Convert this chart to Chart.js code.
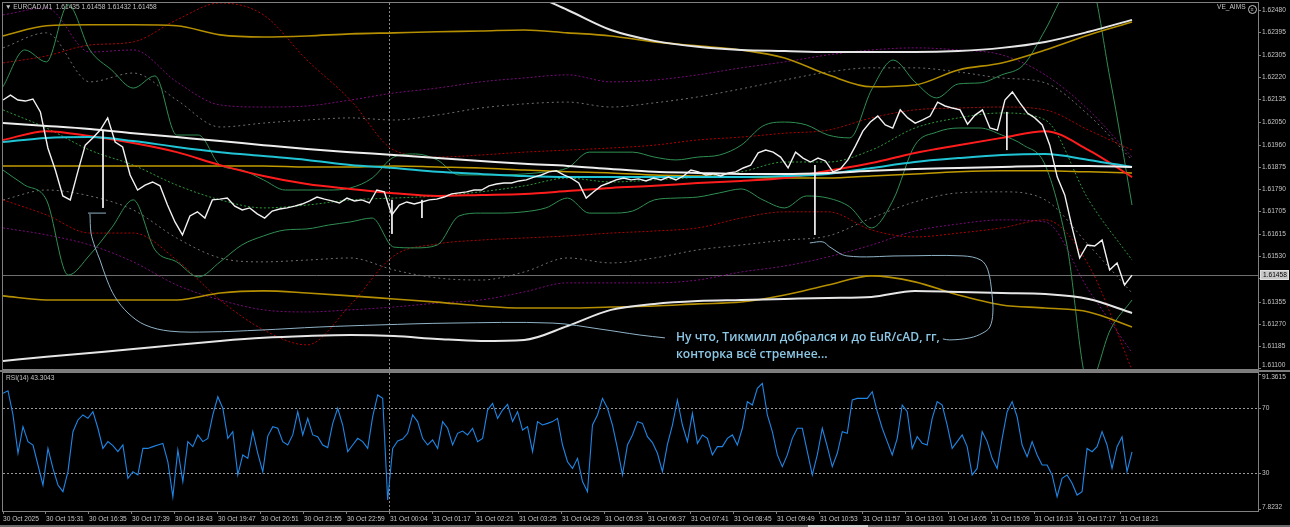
<!DOCTYPE html>
<html>
<head>
<meta charset="utf-8">
<script src="https://cdn.jsdelivr.net/npm/chart.js@4.4.1/dist/chart.umd.min.js"></script>
<style>
  html, body { margin: 0; padding: 0; background: #000; }
  body { width: 1290px; height: 527px; position: relative; overflow: hidden; font-family: "Liberation Sans", Arial, sans-serif; }
  canvas { position: absolute; left: 0; }
  #mainCanvas { top: 0; }
  #rsiCanvas { top: 371px; }
  .sep { position: absolute; left: 0; top: 370px; width: 1290px; height: 2px; background: #7c7c7c; }
  .foot { position: absolute; left: 0; top: 525px; width: 1290px; height: 2px; background: #6a6a6a; }
  .foot span { position: absolute; left: 808px; width: 60px; height: 2px; background: #d0d0d0; }
  .lbl { position: absolute; color: #c4c4c4; font-size: 6.6px; white-space: pre; line-height: 8px; }
  .ico { display: inline-block; width: 7px; height: 7px; border: 1px solid #c4c4c4; border-radius: 50%; vertical-align: -2px; margin-left: 2px; font-size: 5px; line-height: 7px; text-align: center; }
  .note { position: absolute; left: 676px; color: #8cc8e6; font-family: "Open Sans", "Noto Sans", sans-serif; font-size: 12.1px; font-weight: 600; line-height: 16px; white-space: pre; }
</style>
</head>
<body>
<canvas id="mainCanvas" width="1290" height="371"></canvas>
<canvas id="rsiCanvas" width="1290" height="156"></canvas>
<div class="sep"></div>
<div class="foot"><span></span></div>
<div class="lbl" style="left:5px;top:3px">▼ EURCAD,M1  1.61435 1.61458 1.61432 1.61458</div>
<div class="lbl" style="left:1217px;top:3px">VE_AIMS<span class="ico">≡</span></div>
<div class="lbl" style="left:6px;top:374px">RSI(14) 43.3043</div>
<div class="note" style="top:329px">Ну что, Тикмилл добрался и до EuR/cAD, гг,</div>
<div class="note" style="top:346px">конторка всё стремнее...</div>
<script>
// x axis is measured in label slots (one slot per time label)
const LAST_BAR = 26.26;
const X_MAX = 29.19;
const VLINE_AT = 8.98;   // period separator (31 Oct 00:00)
const BID = 1.61458;

const timeLabels = ['30 Oct 2025', '30 Oct 15:31', '30 Oct 16:35', '30 Oct 17:39', '30 Oct 18:43', '30 Oct 19:47',
  '30 Oct 20:51', '30 Oct 21:55', '30 Oct 22:59', '31 Oct 00:04', '31 Oct 01:17', '31 Oct 02:21', '31 Oct 03:25',
  '31 Oct 04:29', '31 Oct 05:33', '31 Oct 06:37', '31 Oct 07:41', '31 Oct 08:45', '31 Oct 09:49', '31 Oct 10:53',
  '31 Oct 11:57', '31 Oct 13:01', '31 Oct 14:05', '31 Oct 15:09', '31 Oct 16:13', '31 Oct 17:17', '31 Oct 18:21'];

const priceTicks = [1.62480, 1.62395, 1.62305, 1.62220, 1.62135, 1.62050, 1.61960, 1.61875, 1.61790,
  1.61705, 1.61615, 1.61530, 1.61445, 1.61355, 1.61270, 1.61185, 1.61100];
const rsiTicks = [91.3615, 70, 30, 7.8232];
const rsiLevels = [70, 30];

// EURCAD M1 close
const closePrice = [
  1.62133, 1.62152, 1.62133, 1.62129, 1.62137, 1.62087, 1.61948, 1.61863, 1.61763, 1.61748,
  1.61856, 1.61959, 1.61987, 1.62017, 1.62064, 1.61971, 1.61952, 1.61844, 1.61786, 1.61805,
  1.61817, 1.61802, 1.61728, 1.61663, 1.61613, 1.61686, 1.61702, 1.61678, 1.61748, 1.61751,
  1.61755, 1.61724, 1.61709, 1.61717, 1.61694, 1.61678, 1.61705, 1.61713, 1.61717, 1.61724,
  1.61732, 1.61744, 1.61759, 1.61751, 1.61744, 1.61736, 1.61755, 1.61744, 1.61748, 1.61736,
  1.61786, 1.61779, 1.61690, 1.61728, 1.61740, 1.61732, 1.61740, 1.61748, 1.61751, 1.61759,
  1.61771, 1.61775, 1.61779, 1.61786, 1.61786, 1.61802, 1.61809, 1.61813, 1.61813, 1.61821,
  1.61825, 1.61836, 1.61844, 1.61856, 1.61860, 1.61844, 1.61832, 1.61813, 1.61755, 1.61779,
  1.61802, 1.61813, 1.61825, 1.61832, 1.61825, 1.61829, 1.61821, 1.61832, 1.61825, 1.61836,
  1.61825, 1.61840, 1.61863, 1.61856, 1.61844, 1.61848, 1.61840, 1.61852, 1.61856, 1.61871,
  1.61882, 1.61929, 1.61940, 1.61932, 1.61913, 1.61871, 1.61932, 1.61909, 1.61894, 1.61909,
  1.61898, 1.61856, 1.61867, 1.61902, 1.61955, 1.62013, 1.62048, 1.62071, 1.62037, 1.62025,
  1.62095, 1.62064, 1.62044, 1.62056, 1.62071, 1.62125, 1.62110, 1.62102, 1.62095, 1.62040,
  1.62075, 1.62095, 1.62025, 1.62017, 1.62133, 1.62164, 1.62122, 1.62083, 1.62064, 1.62037,
  1.61959, 1.61836, 1.61767, 1.61640, 1.61524, 1.61574, 1.61570, 1.61593, 1.61478, 1.61505,
  1.61420, 1.61458];

// single long wicks
const wickAt = [2.326, 9.047, 9.744, 18.884, 23.349];
const wickHigh = [1.62017, 1.61748, 1.61748, 1.61882, 1.62087];
const wickLow = [1.61717, 1.61617, 1.61678, 1.61613, 1.61940];

// moving averages
const maWhite = [1.62044, 1.62033, 1.62021, 1.62005, 1.61990, 1.61975, 1.61959, 1.61944, 1.61932, 1.61921, 1.61909, 1.61898, 1.61887, 1.61879,
  1.61867, 1.61856, 1.61852, 1.61848, 1.61848, 1.61852, 1.61860, 1.61867, 1.61871, 1.61875, 1.61879, 1.61879, 1.61875];
const maCyan = [1.61971, 1.61987, 1.61990, 1.61975, 1.61952, 1.61932, 1.61917, 1.61902, 1.61882, 1.61871, 1.61856, 1.61848, 1.61840, 1.61836,
  1.61836, 1.61836, 1.61836, 1.61836, 1.61840, 1.61848, 1.61871, 1.61894, 1.61909, 1.61921, 1.61925, 1.61902, 1.61875];
const maRed = [1.61979, 1.62013, 1.61994, 1.61967, 1.61932, 1.61882, 1.61840, 1.61809, 1.61790, 1.61774, 1.61763, 1.61767, 1.61771, 1.61782,
  1.61794, 1.61802, 1.61813, 1.61821, 1.61832, 1.61860, 1.61890, 1.61929, 1.61959, 1.61987, 1.62013, 1.61940, 1.61836];
const maGold = [1.61879, 1.61879, 1.61879, 1.61879, 1.61879, 1.61879, 1.61879, 1.61875, 1.61875, 1.61879, 1.61875, 1.61871, 1.61863, 1.61856,
  1.61852, 1.61844, 1.61840, 1.61836, 1.61832, 1.61832, 1.61840, 1.61848, 1.61856, 1.61860, 1.61860, 1.61856, 1.61852];

// outer envelopes
const goldUpper = [1.62380, 1.62419, 1.62423, 1.62423, 1.62419, 1.62384, 1.62376, 1.62380, 1.62388, 1.62392, 1.62396, 1.62399, 1.62403, 1.62392,
  1.62380, 1.62357, 1.62342, 1.62326, 1.62295, 1.62230, 1.62184, 1.62191, 1.62249, 1.62276, 1.62326, 1.62384, 1.62434];
const goldLower = [1.61378, 1.61362, 1.61362, 1.61362, 1.61362, 1.61389, 1.61397, 1.61389, 1.61378, 1.61366, 1.61354, 1.61339, 1.61331, 1.61331,
  1.61335, 1.61339, 1.61347, 1.61354, 1.61381, 1.61420, 1.61455, 1.61432, 1.61381, 1.61343, 1.61331, 1.61316, 1.61258];
const whiteUpper = [1.62750, 1.62735, 1.62719, 1.62704, 1.62689, 1.62673, 1.62658, 1.62642, 1.62627, 1.62612, 1.62596, 1.62577, 1.62550, 1.62480,
  1.62403, 1.62361, 1.62338, 1.62326, 1.62322, 1.62318, 1.62318, 1.62318, 1.62322, 1.62334, 1.62357, 1.62396, 1.62442];
const whiteLower = [1.61127, 1.61143, 1.61158, 1.61173, 1.61189, 1.61204, 1.61216, 1.61223, 1.61227, 1.61223, 1.61212, 1.61204, 1.61208, 1.61262,
  1.61324, 1.61347, 1.61358, 1.61362, 1.61366, 1.61370, 1.61374, 1.61397, 1.61393, 1.61389, 1.61385, 1.61366, 1.61312];

// bollinger bands (green)
const bbUpper = [1.62184, 1.62326, 1.62280, 1.62500, 1.62326, 1.62249, 1.62179, 1.62226, 1.61998, 1.61998,
  1.61882, 1.61863, 1.61825, 1.61786, 1.61786, 1.61786, 1.61794, 1.61832, 1.61913, 1.61925,
  1.61902, 1.61844, 1.61844, 1.61844, 1.61848, 1.61856, 1.61871, 1.61932, 1.61932, 1.61932,
  1.61913, 1.61902, 1.61913, 1.61921, 1.61959, 1.62033, 1.62048, 1.62037, 1.61998, 1.61987,
  1.62172, 1.62287, 1.62203, 1.62141, 1.62195, 1.62199, 1.62230, 1.62268, 1.62403, 1.62558,
  1.62596, 1.62210, 1.61728];
const bbLower = [1.61863, 1.61805, 1.61748, 1.61458, 1.61536, 1.61640, 1.61748, 1.61555, 1.61509, 1.61451,
  1.61509, 1.61574, 1.61609, 1.61632, 1.61636, 1.61651, 1.61663, 1.61678, 1.61566, 1.61563,
  1.61574, 1.61686, 1.61697, 1.61697, 1.61702, 1.61717, 1.61755, 1.61697, 1.61697, 1.61705,
  1.61748, 1.61755, 1.61759, 1.61775, 1.61790, 1.61748, 1.61717, 1.61763, 1.61755, 1.61721,
  1.61640, 1.61748, 1.61959, 1.62009, 1.62025, 1.62025, 1.61998, 1.61959, 1.61882, 1.61574,
  1.61035, 1.61247, 1.61362];
const bbMiddle = [1.62095, 1.62025, 1.61940, 1.61882, 1.61805, 1.61748, 1.61717, 1.61728, 1.61748, 1.61755, 1.61763, 1.61779, 1.61802, 1.61832,
  1.61817, 1.61825, 1.61836, 1.61856, 1.61894, 1.61894, 1.61940, 1.62025, 1.62064, 1.62083, 1.62056, 1.61748, 1.61516];

// dotted channels
const redDotUpper = [1.62276, 1.62303, 1.62345, 1.62357, 1.62442, 1.62507, 1.62461, 1.62287, 1.62133, 1.61940, 1.61913, 1.61921, 1.61932, 1.61940,
  1.61948, 1.61959, 1.61979, 1.61990, 1.62005, 1.62017, 1.62064, 1.62095, 1.62102, 1.62106, 1.62095, 1.62017, 1.61940];
const redDotLower = [1.61748, 1.61690, 1.61620, 1.61620, 1.61516, 1.61362, 1.61247, 1.61189, 1.61343, 1.61532, 1.61578, 1.61593, 1.61601, 1.61609,
  1.61620, 1.61628, 1.61640, 1.61678, 1.61702, 1.61702, 1.61632, 1.61605, 1.61620, 1.61640, 1.61671, 1.61497, 1.61092];
const purpleUpper = [1.62461, 1.62488, 1.62318, 1.62326, 1.62203, 1.62114, 1.62106, 1.62110, 1.62133, 1.62160, 1.62179, 1.62203, 1.62218, 1.62230,
  1.62203, 1.62210, 1.62230, 1.62257, 1.62280, 1.62307, 1.62326, 1.62334, 1.62326, 1.62307, 1.62230, 1.62095, 1.61913];
const purpleLower = [1.61640, 1.61613, 1.61574, 1.61509, 1.61420, 1.61362, 1.61324, 1.61316, 1.61324, 1.61335, 1.61350, 1.61362, 1.61393, 1.61428,
  1.61428, 1.61428, 1.61439, 1.61470, 1.61493, 1.61528, 1.61574, 1.61628, 1.61655, 1.61671, 1.61663, 1.61401, 1.61158];
const grayUpper = [1.62334, 1.62392, 1.62203, 1.62237, 1.62133, 1.62029, 1.62044, 1.62056, 1.62064, 1.62056, 1.62075, 1.62102, 1.62118, 1.62125,
  1.62106, 1.62122, 1.62145, 1.62176, 1.62210, 1.62241, 1.62257, 1.62257, 1.62241, 1.62218, 1.62199, 1.62075, 1.61902];
const grayLower = [1.61748, 1.61786, 1.61763, 1.61709, 1.61601, 1.61524, 1.61509, 1.61516, 1.61524, 1.61478, 1.61447, 1.61439, 1.61470, 1.61524,
  1.61505, 1.61524, 1.61555, 1.61574, 1.61593, 1.61609, 1.61678, 1.61740, 1.61775, 1.61779, 1.61748, 1.61574, 1.61389];

// hand drawn callout (time slot, price)
const hookT = [1.977, 2.395];
const hookP = [1.61697, 1.61697];
const calloutLeftT = [2.023, 2.047, 2.140, 2.256, 2.419, 2.605, 2.907, 3.302, 3.884, 4.814, 5.977, 7.372, 8.767, 10.395, 12.791, 13.884, 14.814, 15.395];
const calloutLeftP = [1.61694, 1.61620, 1.61566, 1.61516, 1.61439, 1.61374, 1.61312, 1.61266, 1.61242, 1.61239, 1.61246, 1.61258, 1.61266, 1.61273,
  1.61273, 1.61250, 1.61227, 1.61216];
const calloutRightT = [18.767, 19.070, 19.233, 19.628, 20.860, 22.326, 22.744, 22.907, 23.000, 23.023, 22.953, 22.791, 22.488, 22.023, 21.860];
const calloutRightP = [1.61582, 1.61586, 1.61566, 1.61532, 1.61532, 1.61532, 1.61516, 1.61478, 1.61389, 1.61312, 1.61258, 1.61235, 1.61216, 1.61208, 1.61212];

// RSI(14)
const rsi14 = [
  79.3, 80.9, 66.0, 42.4, 58.8, 49.6, 47.5, 35.2, 22.9, 45.4,
  33.1, 22.9, 18.8, 31.1, 55.7, 62.9, 66.0, 63.9, 68.0, 57.8,
  45.4, 49.6, 47.1, 43.4, 47.5, 27.0, 31.1, 29.1, 45.4, 45.4,
  46.5, 47.5, 48.5, 37.2, 15.7, 44.4, 25.0, 49.6, 46.5, 53.7,
  49.6, 51.6, 66.0, 77.2, 70.1, 51.6, 55.7, 29.1, 41.4, 39.3,
  55.7, 42.4, 31.1, 53.0, 58.8, 57.8, 49.6, 47.5, 53.7, 68.0,
  53.7, 63.9, 53.7, 52.6, 47.5, 45.9, 60.8, 70.1, 59.8, 43.4,
  47.5, 51.6, 49.6, 45.4, 64.9, 78.3, 76.2, 13.7, 45.4, 50.0,
  51.2, 54.7, 66.0, 61.9, 51.6, 47.5, 50.6, 45.4, 61.9, 57.8,
  47.5, 54.7, 56.1, 53.7, 57.8, 49.6, 51.6, 69.0, 73.1, 63.9,
  69.0, 72.5, 61.9, 68.0, 56.7, 58.8, 43.4, 61.9, 59.8, 60.8,
  61.9, 63.9, 47.5, 37.2, 33.1, 39.3, 25.0, 18.8, 59.8, 66.0,
  76.2, 70.1, 59.8, 45.4, 29.1, 47.5, 53.7, 61.9, 60.8, 52.6,
  49.0, 42.4, 31.1, 47.9, 59.8, 75.2, 59.8, 49.6, 67.0, 48.5,
  53.7, 51.6, 41.4, 46.5, 46.5, 51.6, 53.7, 47.5, 57.8, 74.2,
  72.1, 82.4, 85.4, 66.0, 55.7, 41.4, 34.2, 41.4, 51.6, 57.8,
  57.8, 43.4, 29.1, 41.4, 57.8, 46.5, 34.2, 42.4, 55.7, 54.7,
  75.2, 76.2, 76.2, 76.2, 80.3, 68.0, 57.8, 49.6, 41.4, 51.6,
  72.1, 68.0, 45.4, 52.6, 48.5, 47.5, 63.9, 74.2, 72.1, 59.8,
  45.4, 49.6, 53.7, 46.5, 29.1, 33.1, 55.7, 49.6, 39.3, 33.1,
  51.6, 68.0, 74.2, 64.9, 47.5, 40.3, 49.6, 41.4, 35.2, 35.2,
  29.1, 15.7, 27.0, 29.1, 24.0, 16.7, 18.8, 45.4, 43.4, 46.5,
  55.7, 47.5, 33.1, 46.5, 52.6, 31.1, 43.3];

// spread an evenly sampled series over the bars
function series(values) {
  const n = values.length;
  return values.map((v, i) => ({ x: i * LAST_BAR / (n - 1), y: v }));
}

function pairs(ts, ps) {
  return ts.map((t, i) => ({ x: t, y: ps[i] }));
}

function line(data, color, width, dash, smooth) {
  return {
    data: data,
    borderColor: color,
    borderWidth: width,
    borderDash: dash || [],
    tension: smooth ? 0.4 : 0,
    cubicInterpolationMode: smooth ? 'monotone' : 'default',
    pointRadius: 0,
    fill: false,
    spanGaps: false,
  };
}

const wickData = [];
wickAt.forEach((t, i) => {
  wickData.push({ x: t, y: wickHigh[i] }, { x: t, y: wickLow[i] }, { x: t, y: null });
});

const FONT = 'Liberation Sans';

// MT4 style frame: right price scale, levels, separator, bid line
const mtFrame = {
  id: 'mtFrame',
  beforeDatasetsDraw(chart, args, opts) {
    const { ctx, chartArea: a, scales: { x, y } } = chart;
    ctx.save();
    ctx.lineWidth = 1;
    (opts.levels || []).forEach(lv => {
      const py = Math.round(y.getPixelForValue(lv)) + 0.5;
      ctx.strokeStyle = '#9a9a9a';
      ctx.setLineDash([2, 2]);
      ctx.beginPath(); ctx.moveTo(a.left, py); ctx.lineTo(a.right, py); ctx.stroke();
    });
    if (opts.vline != null) {
      const px = Math.round(x.getPixelForValue(opts.vline)) + 0.5;
      ctx.strokeStyle = '#8a8a8a';
      ctx.setLineDash([2, 2]);
      ctx.beginPath(); ctx.moveTo(px, a.top); ctx.lineTo(px, a.bottom); ctx.stroke();
    }
    if (opts.bid != null) {
      const py = Math.round(y.getPixelForValue(opts.bid)) + 0.5;
      ctx.strokeStyle = '#6e6e6e';
      ctx.setLineDash([]);
      ctx.beginPath(); ctx.moveTo(a.left, py); ctx.lineTo(a.right, py); ctx.stroke();
    }
    ctx.restore();
  },
  afterDraw(chart, args, opts) {
    const { ctx, chartArea: a, scales: { y } } = chart;
    ctx.save();
    ctx.strokeStyle = '#808080';
    ctx.lineWidth = 1;
    ctx.strokeRect(a.left - 0.5, a.top - 0.5, a.right - a.left + 1, a.bottom - a.top + 1);
    ctx.font = '6.6px "' + FONT + '"';
    ctx.textBaseline = 'middle';
    ctx.textAlign = 'left';
    (opts.ticks || []).forEach(v => {
      const py = Math.round(y.getPixelForValue(v)) + 0.5;
      ctx.beginPath(); ctx.moveTo(a.right, py); ctx.lineTo(a.right + 3, py); ctx.stroke();
      const ty = Math.min(Math.max(py, a.top + 4), a.bottom - 4);
      ctx.fillStyle = '#c4c4c4';
      ctx.fillText(opts.fmt(v), a.right + 4, ty);
    });
    if (opts.bid != null) {
      const py = Math.round(y.getPixelForValue(opts.bid));
      ctx.fillStyle = '#c8c8c8';
      ctx.fillRect(a.right + 2, py - 5, 29, 10);
      ctx.strokeStyle = '#e0e0e0';
      ctx.strokeRect(a.right + 2.5, py - 4.5, 28, 9);
      ctx.fillStyle = '#000';
      ctx.fillText(opts.fmt(opts.bid), a.right + 5, py + 0.5);
    }
    ctx.restore();
  }
};

new Chart(document.getElementById('mainCanvas'), {
  type: 'line',
  data: {
    datasets: [
      line(wickData, '#f2f2f2', 1, null, false),
      line(series(closePrice), '#f2f2f2', 1.4, null, false),
      line(pairs(hookT, hookP), '#8fb3c7', 1, null, false),
      Object.assign(line(pairs(calloutLeftT, calloutLeftP), '#8fb3c7', 1, null, false), { tension: 0.35 }),
      Object.assign(line(pairs(calloutRightT, calloutRightP), '#8fb3c7', 1, null, false), { tension: 0.35 }),
      line(series(maWhite), '#eeeeee', 2, null, true),
      line(series(maCyan), '#20c4d4', 2, null, true),
      line(series(maRed), '#ff1c1c', 2, null, true),
      line(series(maGold), '#c29b00', 1.5, null, true),
      line(series(whiteUpper), '#e6e6e6', 2, null, true),
      line(series(whiteLower), '#e6e6e6', 2, null, true),
      line(series(goldUpper), '#b58f00', 1.6, null, true),
      line(series(goldLower), '#b58f00', 1.6, null, true),
      line(series(bbUpper), '#2f8f52', 1, null, true),
      line(series(bbLower), '#2f8f52', 1, null, true),
      line(series(bbMiddle), '#2e9a3a', 1, [2, 2], true),
      line(series(redDotUpper), '#b00000', 1, [2, 2], true),
      line(series(redDotLower), '#b00000', 1, [2, 2], true),
      line(series(purpleUpper), '#7a0a7a', 1, [2, 2], true),
      line(series(purpleLower), '#7a0a7a', 1, [2, 2], true),
      line(series(grayUpper), '#6f6f6f', 1, [2, 3], true),
      line(series(grayLower), '#6f6f6f', 1, [2, 3], true),
    ],
  },
  options: {
    responsive: false,
    animation: false,
    events: [],
    layout: { padding: { left: 3, right: 32, top: 3, bottom: 2 } },
    scales: {
      x: { type: 'linear', min: 0, max: X_MAX, display: false },
      y: { type: 'linear', min: 1.61096, max: 1.62507, display: false },
    },
    plugins: {
      legend: { display: false },
      tooltip: { enabled: false },
      mtFrame: { ticks: priceTicks, fmt: v => v.toFixed(5), vline: VLINE_AT, bid: BID },
    },
  },
  plugins: [mtFrame],
});

new Chart(document.getElementById('rsiCanvas'), {
  type: 'line',
  data: {
    datasets: [line(series(rsi14), '#1f86e6', 1.1, null, false)],
  },
  options: {
    responsive: false,
    animation: false,
    events: [],
    layout: { padding: { left: 3, right: 32, top: 2, bottom: 0 } },
    scales: {
      x: {
        type: 'linear',
        min: 0,
        max: X_MAX,
        afterBuildTicks: (scale) => { scale.ticks = timeLabels.map((_, i) => ({ value: i })); },
        afterFit: (scale) => { scale.height = 16; },
        border: { display: false },
        grid: { drawOnChartArea: false, drawTicks: true, tickLength: 3, color: '#808080' },
        ticks: {
          autoSkip: false,
          maxRotation: 0,
          align: 'start',
          padding: 1,
          color: '#c4c4c4',
          font: { family: FONT, size: 6.6 },
          callback: (v) => timeLabels[v],
        },
      },
      y: { type: 'linear', min: 6.9, max: 91.8, display: false },
    },
    plugins: {
      legend: { display: false },
      tooltip: { enabled: false },
      mtFrame: { ticks: rsiTicks, fmt: v => (v === 70 || v === 30) ? String(v) : v.toFixed(4), levels: rsiLevels, vline: VLINE_AT },
    },
  },
  plugins: [mtFrame],
});
</script>
</body>
</html>
